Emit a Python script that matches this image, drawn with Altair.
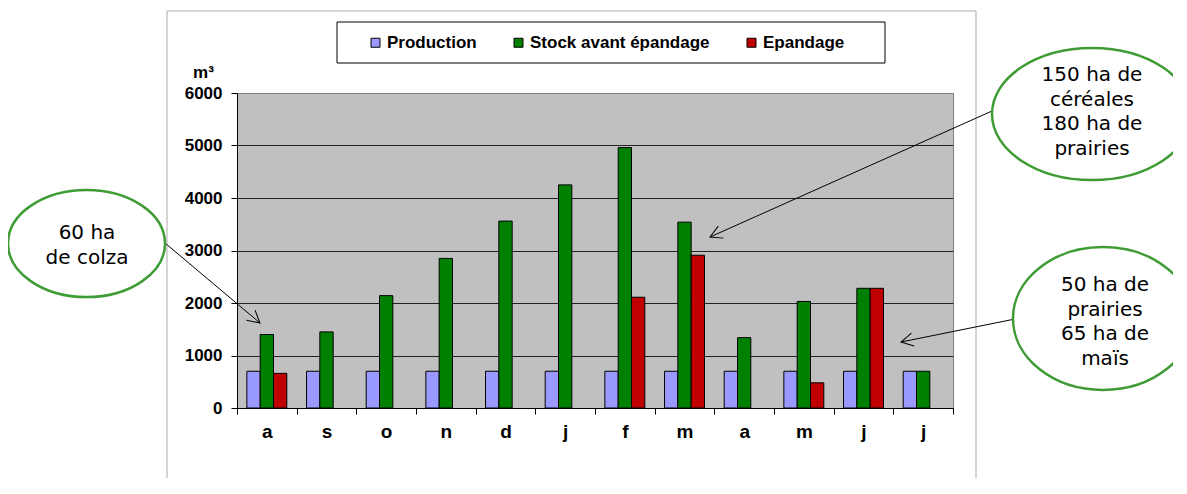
import altair as alt
import pandas as pd

# ---- data ----
mois = ["a", "s", "o", "n", "d", "j", "f", "m", "a", "m", "j", "j"]
production = [700, 700, 700, 700, 700, 700, 700, 700, 700, 700, 700, 700]
stock = [1400, 1450, 2140, 2850, 3560, 4250, 4960, 3540, 1340, 2030, 2280, 700]
epandage = [660, 0, 0, 0, 0, 0, 2110, 2910, 0, 480, 2280, 0]
series = ["Production", "Stock avant épandage", "Epandage"]
couleurs = ["#9999FF", "#008000", "#C00000"]
y_ticks = [0, 1000, 2000, 3000, 4000, 5000, 6000]

notes = [
    "150 ha de\ncéréales\n180 ha de\nprairies",
    "50 ha de\nprairies\n65 ha de\nmaïs",
    "60 ha\nde colza",
]

rows = []
for i, m in enumerate(mois):
    for s, vals in zip(series, [production, stock, epandage]):
        if vals[i] > 0:
            rows.append({"rang": i, "serie": s, "volume": vals[i]})
df = pd.DataFrame(rows)

label_expr = "[" + ",".join("'%s'" % m for m in mois) + "][datum.value]"

W, H = 716, 315
GREEN = "#3f9c35"
one = pd.DataFrame({"k": [0]})

bars = alt.Chart(df).mark_bar(stroke="black", strokeWidth=1).encode(
    x=alt.X(
        "rang:O",
        sort=None,
        scale=alt.Scale(paddingInner=0, paddingOuter=0),
        axis=alt.Axis(
            title=None, labelExpr=label_expr, labelAngle=0, tickBand="extent",
            tickSize=6, tickColor="black", domainColor="black",
            labelFontSize=19, labelFontWeight="bold", labelColor="black",
            labelPadding=8, grid=False,
        ),
    ),
    xOffset=alt.XOffset(
        "serie:N", sort=series,
        scale=alt.Scale(domain=series, paddingInner=0, paddingOuter=0.74),
    ),
    y=alt.Y(
        "volume:Q",
        scale=alt.Scale(domain=[0, 6000], nice=False),
        axis=alt.Axis(
            values=y_ticks, format="d", title="m³", titleAngle=0, titleX=-34, titleY=-21,
            titleAlign="center", titleBaseline="middle", titleFontSize=17,
            titleFontWeight="bold", titleColor="black",
            grid=True,
            gridColor=alt.condition("datum.value >= 6000", alt.value("#808080"), alt.value("#222222")),
            gridWidth=1, tickSize=6, tickColor="black", domainColor="black",
            labelFontSize=17, labelFontWeight="bold", labelColor="black",
            labelPadding=9,
        ),
    ),
    color=alt.Color(
        "serie:N",
        scale=alt.Scale(domain=series, range=couleurs),
        legend=alt.Legend(
            title=None, orient="none", legendX=130, legendY=-59,
            direction="horizontal", padding=0, columnPadding=33,
            labelOffset=3, labelLimit=400, symbolType="square", symbolSize=81,
            symbolStrokeColor="black", symbolStrokeWidth=1,
            labelFontSize=17, labelFontWeight="bold", labelColor="black",
        ),
    ),
)

frame = alt.Chart(one).mark_rect(
    fillOpacity=0, stroke="#ababab", strokeWidth=1
).encode(x=alt.value(-70), x2=alt.value(739), y=alt.value(-82), y2=alt.value(420))

legend_box = alt.Chart(one).mark_rect(
    fill="white", stroke="black", strokeWidth=1
).encode(x=alt.value(100), x2=alt.value(648), y=alt.value(-71), y2=alt.value(-30))

layers = [frame, legend_box, bars]

arrows = [
    ((-72, 150), (23, 230), 40.1),
    ((755, 18), (473, 144), 155.9),
    ((778, 226), (664, 249), 168.6),
]
head = "M-1,-0.55 L0,0 L-1,0.55"
for (x1, y1), (x2, y2), ang in arrows:
    layers.append(
        alt.Chart(one).mark_rule(color="black", strokeWidth=1).encode(
            x=alt.value(x1), y=alt.value(y1), x2=alt.value(x2), y2=alt.value(y2)
        )
    )
    layers.append(
        alt.Chart(one).mark_point(
            shape=head, size=576, angle=ang, filled=False, stroke="black",
            strokeWidth=1, opacity=1
        ).encode(x=alt.value(x2), y=alt.value(y2))
    )

# (ellipse centre x, centre y, rx, ry, text x, first line y, text)
ellipses = [
    (855, 21, 100, 66, 855, -18, notes[0]),
    (866, 225.5, 90, 71.5, 868, 192, notes[1]),
    (-150.5, 150.5, 78.5, 53.5, -150, 140, notes[2]),
]
for cx, cy, rx, ry, tx, ty, txt in ellipses:
    r = ry / rx
    path = "M-1,0 A1,%.3f 0 1,1 1,0 A1,%.3f 0 1,1 -1,0 Z" % (r, r)
    layers.append(
        alt.Chart(one).mark_point(
            shape=path, size=(2 * rx) ** 2, filled=True, fill="white",
            stroke=GREEN, strokeWidth=2.5, opacity=1
        ).encode(x=alt.value(cx), y=alt.value(cy))
    )
    layers.append(
        alt.Chart(one).mark_text(
            font="DejaVu Sans", fontSize=20, lineBreak="\n", lineHeight=24.5,
            align="center", baseline="middle", color="black"
        ).encode(x=alt.value(tx), y=alt.value(ty), text=alt.value(txt))
    )

chart = alt.layer(*layers).properties(
    width=W, height=H,
    autosize=alt.AutoSizeParams(type="none"),
    padding={"left": 229, "top": 85, "right": 220, "bottom": 70},
    background="white",
).configure(
    font="Liberation Sans",
).configure_view(
    fill="#C0C0C0", stroke="#808080", strokeWidth=1,
)

chart.save("out.html", embed_options={"renderer": "svg", "actions": False})
